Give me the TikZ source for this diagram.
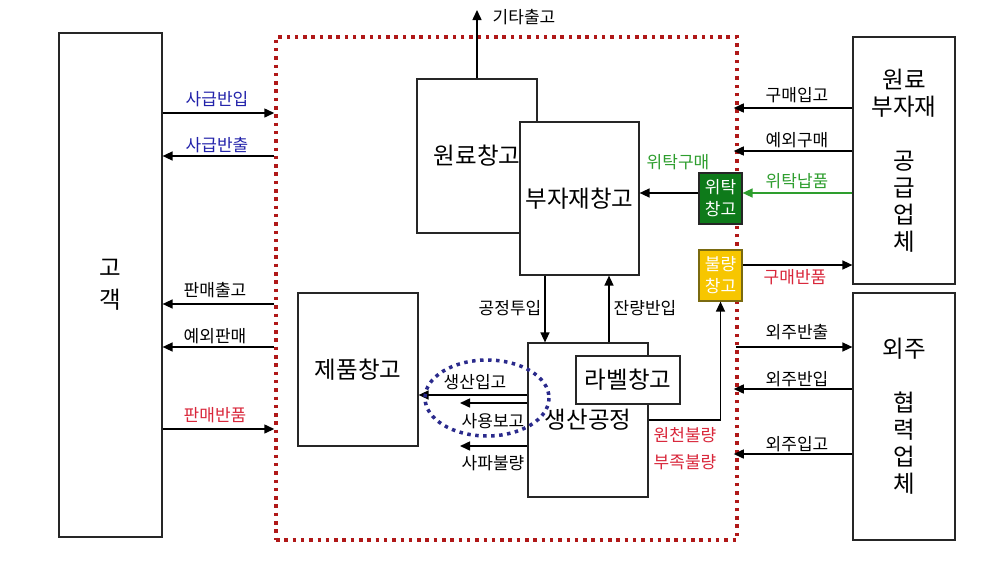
\documentclass[tikz,border=0pt]{standalone}
\usepackage{fontspec}
\setmainfont{Noto Sans CJK KR}
\usetikzlibrary{arrows.meta,calc}
\definecolor{bdred}{HTML}{B01818}
\definecolor{lblblue}{HTML}{2222AA}
\definecolor{lblgreen}{HTML}{2E9E2E}
\definecolor{lblred}{HTML}{D9263A}
\definecolor{boxgreen}{HTML}{0E7A1A}
\definecolor{boxyellow}{HTML}{F7C600}
\definecolor{yborder}{HTML}{7A6A10}
\definecolor{ellblue}{HTML}{2A2A8C}
\begin{document}
\begin{tikzpicture}[x=1pt,y=-1pt,
  box/.style={draw=black!85, line width=1.2pt, fill=white, inner sep=0pt, align=center,
    font=\fontsize{23.5}{27}\selectfont},
  smallbox/.style={draw=black!85, line width=1.2pt, inner sep=0pt, align=center, text=white,
    font=\fontsize{17}{22}\selectfont},
  arr/.style={line width=1.5pt, -{Triangle[length=10pt,width=9pt]}},
  lbl/.style={inner sep=0pt, font=\fontsize{17}{18}\selectfont},
  plantborder/.style={draw=bdred, line width=3.5pt, dash pattern=on 3.5pt off 4.8pt, inner sep=0pt}
]
\fill[white] (0,0) rectangle (991,581);
\useasboundingbox (0,0) rectangle (991,581);

% level coordinates
\foreach \v in {10,108,113,151,156,193,265,304,347,389,395,403,420,429,446,454}{
  \coordinate (y\v) at (0,\v);
}
\coordinate (cxA) at (545,0);
\coordinate (cxB) at (609,0);

% main frame
\node[plantborder, minimum width=461pt, minimum height=503pt] (plant) at (506.5,288.5) {};

% boxes
\node[box, minimum width=103pt, minimum height=504pt] (cust) at (110.5,285) {고\\[5pt]객};
\node[box, minimum width=120pt, minimum height=154pt] (raw) at (477,156) {원료창고};
\node[box, minimum width=119pt, minimum height=153pt] (sub) at (579.5,198.5) {부자재창고};
\node[smallbox, fill=boxgreen, minimum width=43pt, minimum height=51pt] (trust) at (720.5,198.5) {위탁\\창고};
\node[smallbox, draw=yborder, fill=boxyellow, minimum width=43pt, minimum height=51pt] (defect) at (720.5,275.5) {불량\\창고};
\node[box, minimum width=102pt, minimum height=247pt] (supp) at (904,160.5) {원료\\부자재\\[27pt]공\\급\\업\\체};
\node[box, minimum width=102pt, minimum height=247pt] (outs) at (904,416.5) {외주\\[27pt]협\\력\\업\\체};
\node[box, minimum width=120pt, minimum height=153pt] (prod) at (358,369.5) {제품창고};
\node[box, minimum width=120pt, minimum height=154pt] (proc) at (588,420) {생산공정};
\node[box, minimum width=104pt, minimum height=48pt] (lab) at (628,380) {라벨창고};

% customer side
\draw[arr] (cust.east |- y113) -- (plant.west |- y113);
\node[lbl, text=lblblue] (l1) at (217,99) {사급반입};
\draw[arr] (plant.west |- y156) -- (cust.east |- y156);
\node[lbl, text=lblblue] (l2) at (217,145) {사급반출};
\draw[arr] (plant.west |- y304) -- (cust.east |- y304);
\node[lbl] (l3) at (215,290) {판매출고};
\draw[arr] (plant.west |- y347) -- (cust.east |- y347);
\node[lbl] (l4) at (215,336) {예외판매};
\draw[arr] (cust.east |- y429) -- (plant.west |- y429);
\node[lbl, text=lblred] (l5) at (215,415) {판매반품};

% top
\coordinate (topout) at (477,10);
\draw[arr] (raw.north) -- (topout);
\node[lbl] (l6) at (524,17) {기타출고};

% trust
\draw[arr] (trust.west |- y193) -- (sub.east |- y193);
\node[lbl, text=lblgreen] (l7) at (678,162) {위탁구매};

% supplier side
\draw[arr, shorten >=-5pt] (supp.west |- y108) -- (plant.east |- y108);
\node[lbl] (l8) at (797,95) {구매입고};
\draw[arr, shorten >=-5pt] (supp.west |- y151) -- (plant.east |- y151);
\node[lbl] (l9) at (797,140) {예외구매};
\draw[arr, draw=lblgreen, -{Triangle[length=10pt,width=9pt,fill=lblgreen]}] (supp.west |- y193) -- (trust.east |- y193);
\node[lbl, text=lblgreen] (l10) at (797,181) {위탁납품};
\draw[arr] (defect.east |- y265) -- (supp.west |- y265);
\node[lbl, text=lblred] (l11) at (795,277) {구매반품};

% outsourcing side
\draw[arr, shorten <=-3pt] (plant.east |- y347) -- (outs.west |- y347);
\node[lbl] (l12) at (797,332) {외주반출};
\draw[arr, shorten >=-5pt] (outs.west |- y389) -- (plant.east |- y389);
\node[lbl] (l13) at (797,379) {외주반입};
\draw[arr, shorten >=-5pt] (outs.west |- y454) -- (plant.east |- y454);
\node[lbl] (l14) at (797,444) {외주입고};

% sub <-> proc
\draw[arr] (cxA |- sub.south) -- (cxA |- proc.north);
\node[lbl] (l15) at (510,308) {공정투입};
\draw[arr] (cxB |- proc.north) -- (cxB |- sub.south);
\node[lbl] (l16) at (645,308) {잔량반입};

% proc -> defect
\draw[arr] (proc.east |- y420) -| (defect.south);
\node[lbl, text=lblred] (l17) at (685,435) {원천불량};
\node[lbl, text=lblred] (l18) at (685,462) {부족불량};

% proc -> prod
\draw[arr] (proc.west |- y395) -- (prod.east |- y395);
\node[lbl] (l19) at (475,382) {생산입고};
\coordinate (useend) at (460,403);
\draw[arr] (proc.west |- y403) -- (useend);
\node[lbl] (l20) at (493,421) {사용보고};
\coordinate (scrapend) at (460,446);
\draw[arr] (proc.west |- y446) -- (scrapend);
\node[lbl] (l21) at (493,463) {사파불량};

% highlight ellipse
\draw[ellblue, line width=3.5pt, dash pattern=on 3.5pt off 4.5pt] (487,398) ellipse [x radius=62, y radius=38];
\end{tikzpicture}
\end{document}
